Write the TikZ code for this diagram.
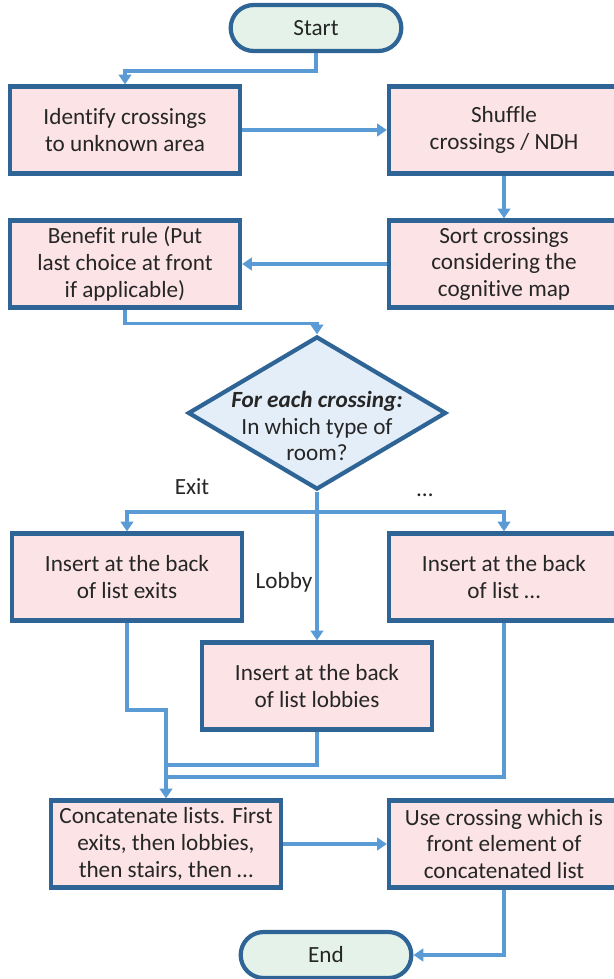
\documentclass[tikz,border=0pt]{standalone}
\usepackage{fontspec}
\setmainfont{Carlito}[Ligatures=NoCommon]
\usetikzlibrary{positioning}
\usetikzlibrary{shapes.geometric,shapes.misc,arrows.meta}

\definecolor{boxline}{HTML}{2E6596}
\definecolor{connline}{HTML}{5B9BD5}
\definecolor{boxfill}{HTML}{FBE3E6}
\definecolor{termfill}{HTML}{E4F2E9}
\definecolor{askfill}{HTML}{E4EEF8}
\definecolor{txt}{HTML}{262626}

\begin{document}
\begin{tikzpicture}[
    x=0.025cm, y=-0.025cm,
    every node/.style={
        text=txt,
        font=\fontsize{16.5}{19}\selectfont,
        align=center,
    },
    process/.style={
        draw=boxline, fill=boxfill, rectangle,
        line width=3pt,
        minimum width=5.75cm,
        minimum height=2.175cm,
        inner sep=1pt,
    },
    terminal/.style={
        draw=boxline, fill=termfill, rounded rectangle,
        line width=3pt,
        minimum width=4.5cm,
        minimum height=1.15cm,
    },
    decision/.style={
        draw=boxline, fill=askfill, diamond,
        line width=3pt,
        minimum width=6.45cm,
        minimum height=3.825cm,
        inner xsep=-45pt, inner ysep=-20pt,
    },
    conn/.style={
        draw=connline, line width=2.5pt,
        -{Triangle[width=9pt,length=7pt]},
    },
    link/.style={draw=connline, line width=2.5pt},
    lbl/.style={inner sep=1pt},
]
    \useasboundingbox (0,0) rectangle (613,979);

    % ~~~ boxes ~~~~~~~~~~~~~~~~~~~~~~~~~~~~~~~~~~~~~~~~~~~~~~
    \node[terminal] (start)   at (316,28)  {Start};
    \node[process]  (ident)   at (125,130) {Identify crossings\\to unknown area};
    \node[process]  (shuffle) at (504,130) {Shuffle\\crossings / NDH};
    \node[process]  (sort)    at (504,264) {Sort crossings\\considering the\\cognitive map};
    \node[process]  (benefit) at (125,264) {Benefit rule (Put\\last choice at front\\if applicable)};
    \node[decision] (ask)     at (317,413) {\rule{0pt}{30pt}\textbf{\textit{For each crossing:}}\\In which type of\\room?};
    \node[process]  (exit)    at (127,577) {Insert at the back\\of list exits};
    \node[process]  (other)   at (504,577) {Insert at the back\\of list …};
    \node[process]  (lobby)   at (317,686) {Insert at the back\\of list lobbies};
    \node[process]  (concat)  at (166,844) {Concatenate lists. First\\exits, then lobbies,\\then stairs, then …};
    \node[process]  (pick)    at (504,844) {Use crossing which is\\front element of\\concatenated list};
    \node[terminal] (stop)    at (326,955) {End};

    % ~~~ branch labels ~~~~~~~~
    \node[lbl] at (192,487) {Exit};
    \node[lbl] at (425,495) {…};
    \node[lbl] at (284,582) {Lobby};

    % ~~~ connectors ~~~~~~~~
    \draw[conn] (start.south) -- ++(0,18) -| (ident.north);
    \draw[conn] (ident) -- (shuffle);
    \draw[conn] (shuffle) -- (sort);
    \draw[conn] (sort) -- (benefit);
    \draw[conn] (benefit.south) -- ++(0,14) -| (ask.north);

    \coordinate (split) at (ask.south |- 0,512);
    \draw[conn] (ask.south) -- (lobby.north);
    \draw[conn] (split) -| (exit.north);
    \draw[conn] (split) -| (other.north);

    \coordinate (merge) at (concat.north |- 0,710);
    \draw[conn] (exit.south) |- (merge) -- (concat.north);
    \draw[link] (lobby.south) |- (concat.north |- 0,765);
    \draw[link] (other.south) |- (concat.north |- 0,777);

    \draw[conn] (concat) -- (pick);
    \draw[conn] (pick.south) |- (stop.east);
\end{tikzpicture}
\end{document}
